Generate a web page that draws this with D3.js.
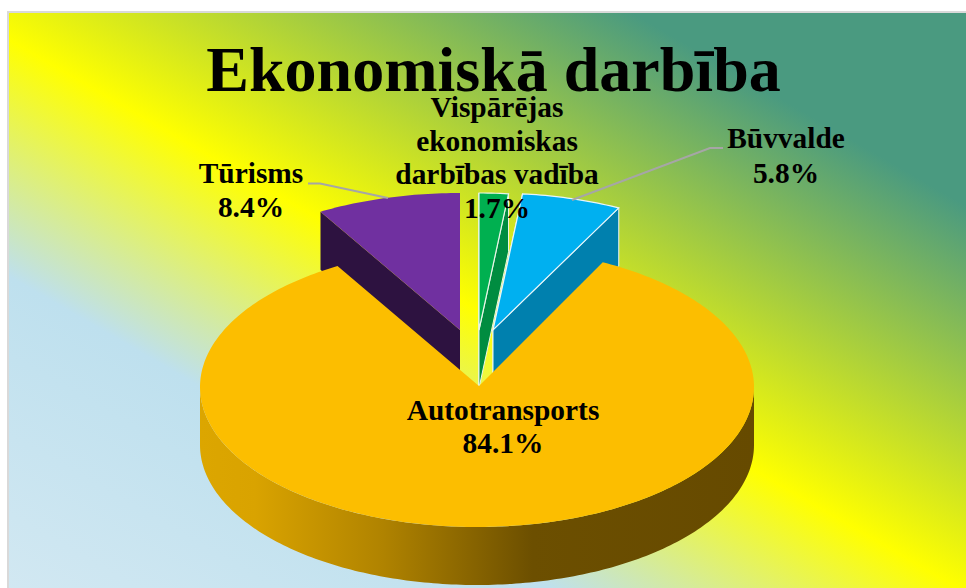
<!DOCTYPE html>
<html><head><meta charset="utf-8">
<script src="https://cdn.jsdelivr.net/npm/d3@7"></script>
<style>html,body{margin:0;padding:0;background:#fff}svg{display:block}
text{font-family:"Liberation Serif",serif;font-weight:bold;fill:#000}</style>
</head><body><svg id="c" width="966" height="588"></svg>
<script>
const titleText = "Ekonomiskā darbība";
const categories = ["Vispārējas ekonomiskas darbības vadība", "Būvvalde", "Autotransports", "Tūrisms"];
const values = [1.7, 5.8, 84.1, 8.4];
const labelLines = [["Vispārējas","ekonomiskas","darbības vadība","1.7%"],["Būvvalde","5.8%"],["Autotransports","84.1%"],["Tūrisms","8.4%"]];
const topColors = ["#00B050","#00B0F0","#FCBE00","#7030A0"];
const sideColors = ["#008C40","#0080AE","#B58A00","#2D1240"];
const centers = [[479,330],[493,330],[477,387],[460,330]];
const apexes = [[479,330],[493,330],[479,386],[460,330]];
const radiiY = [137,137,140,137];
const labelPos = [[497,117],[786,148],[503,420],[251,183]];
const lineH = [33.7,35,33,34];
const strokes = ["#E8F5E8","#E8F5FA","none","none"];
const leaders = [[[572,200],[710,148],[723,148]],[[388,198],[320,183.5],[308,183.5]]];

const rx=277, depth=58;
const svg=d3.select("#c");
const defs=svg.append("defs");

// background
const t0=-510, t1=470;
const bgStops=[[t0,"#D2E8F2"],[-235,"#BEE0EE"],[-30,"#FFFF00"],[305,"#4A9A80"],[t1,"#4A9A80"]];
const ux=0.5, uy=-0.866, ox=480, oy=300, tc=ux*ox+uy*oy;
const bg=defs.append("linearGradient").attr("id","bg").attr("gradientUnits","userSpaceOnUse")
 .attr("x1",ox+ux*(t0-tc)).attr("y1",oy+uy*(t0-tc)).attr("x2",ox+ux*(t1-tc)).attr("y2",oy+uy*(t1-tc));
const tScale=d3.scaleLinear().domain([t0,t1]).range([0,1]);
bg.selectAll("stop").data(bgStops).join("stop").attr("offset",d=>tScale(d[0])).attr("stop-color",d=>d[1]);
svg.append("rect").attr("x",8).attr("y",12).attr("width",962).attr("height",580).attr("fill","url(#bg)").attr("stroke","#d9d9d9").attr("stroke-width",2);

// auto side gradient
const sg=defs.append("linearGradient").attr("id","side").attr("gradientUnits","userSpaceOnUse")
 .attr("x1",200).attr("x2",754).attr("y1",0).attr("y2",0);
sg.selectAll("stop").data([[0,"#DCA600"],[0.1,"#D9A300"],[0.33,"#B08300"],[0.6,"#6C4F00"],[1,"#664A00"]]).join("stop")
 .attr("offset",d=>d[0]).attr("stop-color",d=>d[1]);

const arcs=d3.pie().sort(null).value(d=>d)(values);
const P=(a,c,ry,dy=0)=>[c[0]+rx*Math.sin(a), c[1]-ry*Math.cos(a)+dy];
const line=d3.line();
const sample=(a,b)=>{const n=Math.max(2,Math.ceil(Math.abs(b-a)*60));return d3.range(n+1).map(i=>a+(b-a)*i/n);};

function wedge(g,d,i){
  const c=centers[i], ry=radiiY[i];
  [d.startAngle,d.endAngle].forEach(a=>{
    const p=P(a,c,ry);
    g.append("path").attr("d",line([c,p,[p[0],p[1]+depth],[c[0],c[1]+depth]])+"Z")
     .attr("fill",sideColors[i]).attr("stroke",strokes[i]).attr("stroke-width",strokes[i]==="none"?0:1);
  });
  g.append("path").attr("d",line([c,...sample(d.startAngle,d.endAngle).map(a=>P(a,c,ry))])+"Z")
   .attr("fill",topColors[i]).attr("stroke",strokes[i]).attr("stroke-width",strokes[i]==="none"?0:1.2);
}
[3,0,1].forEach(i=>wedge(svg.append("g"),arcs[i],i));

// large slice
{
  const i=2,d=arcs[i],c=centers[i],ry=radiiY[i];
  const front=sample(Math.PI/2,3*Math.PI/2);
  svg.append("path").attr("d",line([...front.map(a=>P(a,c,ry)),...front.slice().reverse().map(a=>P(a,c,ry,depth))])+"Z").attr("fill","url(#side)");
  svg.append("path").attr("d",line([apexes[i],...sample(d.startAngle,d.endAngle).map(a=>P(a,c,ry))])+"Z").attr("fill",topColors[i]);
}

// leaders
leaders.forEach(l=>svg.append("path").attr("d",line(l)).attr("fill","none").attr("stroke","#A6A6A6").attr("stroke-width",2));

// labels
svg.append("text").attr("x",493.5).attr("y",91).attr("text-anchor","middle").attr("font-size",64).text(titleText);
labelLines.forEach((ls,i)=>{
  ls.forEach((s,j)=>svg.append("text").attr("x",labelPos[i][0]).attr("y",labelPos[i][1]+j*lineH[i]).attr("text-anchor","middle").attr("font-size",29.4).text(s));
});
</script></body></html>
